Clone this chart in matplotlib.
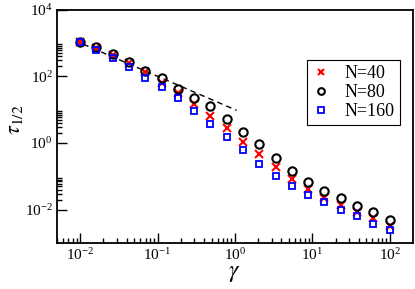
import numpy as np
import matplotlib
matplotlib.use('Agg')
from matplotlib import pyplot as plt
from matplotlib.ticker import FixedLocator, LogFormatterSciNotation, NullFormatter

plt.rcParams['font.family'] = 'Liberation Serif'
plt.rcParams['mathtext.fontset'] = 'stix'

# gamma values (20 log-spaced points from 1e-2 to 1e2)
gamma = np.logspace(-2, 2, 20)

# log10 of tau_1/2
log_tau_40 = [3.02, 2.85, 2.63, 2.40, 2.13, 1.80, 1.51, 1.16, 0.81, 0.46,
              0.03, -0.34, -0.72, -1.07, -1.37, -1.66, -1.87, -2.07, -2.24, -2.49]
log_tau_80 = [3.02, 2.87, 2.68, 2.43, 2.17, 1.95, 1.63, 1.36, 1.10, 0.73,
              0.34, -0.04, -0.46, -0.84, -1.17, -1.44, -1.66, -1.89, -2.07, -2.31]
log_tau_160 = [3.02, 2.78, 2.55, 2.29, 1.96, 1.69, 1.34, 0.95, 0.57, 0.17,
               -0.22, -0.64, -0.98, -1.29, -1.55, -1.77, -2.01, -2.19, -2.42, -2.60]

tau_40 = 10 ** np.array(log_tau_40)
tau_80 = 10 ** np.array(log_tau_80)
tau_160 = 10 ** np.array(log_tau_160)

# dashed guide line tau = 10 / gamma
guide_gamma = np.array([0.011, 1.05])
guide_tau = 10.0 / guide_gamma

fig = plt.figure(figsize=(4.15, 2.89), dpi=100)
ax = fig.add_axes([0.137, 0.159, 0.858, 0.808])

ax.plot(guide_gamma, guide_tau, color='black', ls=(0, (4, 3)), lw=1.0)
ax.plot(gamma, tau_40, ls='none', marker='x', ms=6, mew=1.5, color='red', label='N=40')
ax.plot(gamma, tau_80, ls='none', marker='o', ms=6, mew=1.5, mfc='none', mec='black', label='N=80')
ax.plot(gamma, tau_160, ls='none', marker='s', ms=5, mew=1.3, mfc='none', mec='blue', label='N=160')

ax.set_xscale('log')
ax.set_yscale('log')
ax.set_xlim(5e-3, 2e2)
ax.set_ylim(1e-3, 1e4)

ax.xaxis.set_major_locator(FixedLocator([1e-2, 1e-1, 1e0, 1e1, 1e2]))
xminor = [k * 10.0 ** e for e in range(-3, 2) for k in range(2, 10)]
ax.xaxis.set_minor_locator(FixedLocator(xminor))
ax.yaxis.set_major_locator(FixedLocator([1e-2, 1e0, 1e2, 1e4]))
yminor = [k * 10.0 ** e for e in (-2, 0, 2) for k in range(2, 10)]
ax.yaxis.set_minor_locator(FixedLocator(yminor))
ax.xaxis.set_major_formatter(LogFormatterSciNotation())
ax.yaxis.set_major_formatter(LogFormatterSciNotation())
ax.xaxis.set_minor_formatter(NullFormatter())
ax.yaxis.set_minor_formatter(NullFormatter())

ax.tick_params(which='both', direction='in', top=False, right=False, width=1.0, labelsize=11)
ax.tick_params(which='major', length=7)
ax.tick_params(which='minor', length=3.5)
ax.tick_params(axis='x', pad=3)
ax.tick_params(axis='y', pad=3)
for s in ax.spines.values():
    s.set_linewidth(1.3)

ax.set_xlabel(r'$\gamma$', fontsize=17)
ax.set_ylabel(r'$\tau_{1/2}$', fontsize=16)
ax.xaxis.set_label_coords(0.497, -0.085, transform=ax.transAxes)
ax.xaxis.label.set_va('top')
ax.yaxis.set_label_coords(-0.09, 0.53, transform=ax.transAxes)

leg = ax.legend(loc='upper left', bbox_to_anchor=(0.702, 0.784), borderaxespad=0,
                fontsize=13, fancybox=False, framealpha=1, edgecolor='black',
                handlelength=1.0, handletextpad=0.8, labelspacing=0.1,
                borderpad=0.3, markerscale=0.8)
leg.get_frame().set_linewidth(0.8)

fig.savefig('out.png', dpi=100)
